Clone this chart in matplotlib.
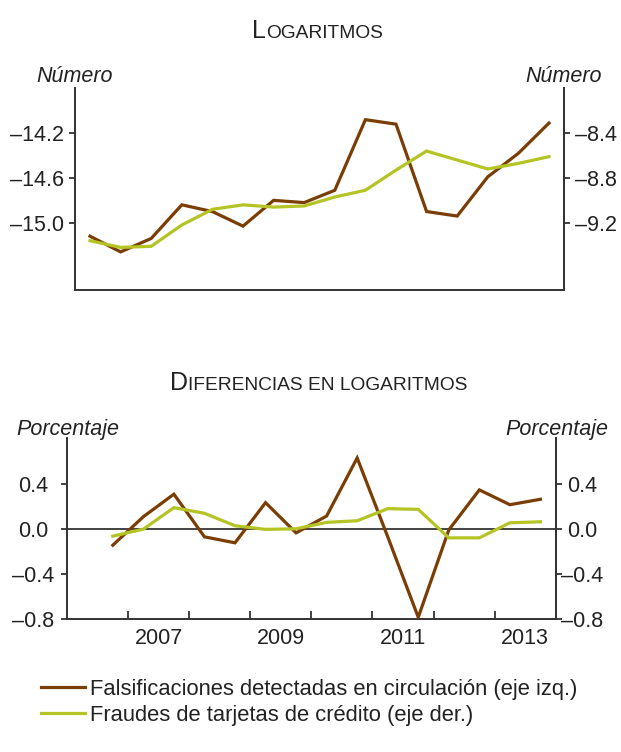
import matplotlib
matplotlib.use("Agg")
import matplotlib.pyplot as plt
from matplotlib.ticker import FixedLocator, FuncFormatter, NullFormatter, FixedFormatter
from matplotlib.lines import Line2D

plt.rcParams['font.family'] = ['Liberation Sans', 'DejaVu Sans']

# ---- data ----
x_levels = [2006.25, 2006.75, 2007.25, 2007.75, 2008.25, 2008.75, 2009.25, 2009.75,
            2010.25, 2010.75, 2011.25, 2011.75, 2012.25, 2012.75, 2013.25, 2013.75]
falsif_log = [-15.12, -15.26, -15.14, -14.84, -14.90, -15.03, -14.80, -14.82,
              -14.71, -14.08, -14.12, -14.90, -14.94, -14.59, -14.38, -14.11]
fraudes_log = [-9.36, -9.42, -9.41, -9.22, -9.08, -9.04, -9.06, -9.05,
               -8.97, -8.91, -8.73, -8.56, -8.64, -8.72, -8.67, -8.61]

x_diff = x_levels[1:]
falsif_diff = [-0.145, 0.107, 0.306, -0.071, -0.124, 0.231, -0.036, 0.113,
               0.626, -0.07, -0.782, -0.01, 0.344, 0.213, 0.261]
fraudes_diff = [-0.065, -0.003, 0.187, 0.137, 0.027, -0.005, 0.0, 0.057,
                0.071, 0.178, 0.172, -0.08, -0.08, 0.053, 0.062]

year_ticks = [2007, 2008, 2009, 2010, 2011, 2012, 2013]
year_label_pos = [2007.5, 2009.5, 2011.5, 2013.5]
year_labels = ['2007', '2009', '2011', '2013']

top_left_ticks = [-15.0, -14.6, -14.2]
top_right_ticks = [-9.2, -8.8, -8.4]
bot_ticks = [-0.8, -0.4, 0.0, 0.4]

BROWN = '#7a3d04'
GREEN = '#b4c425'
SPINE = '#333333'
TXT = '#222222'
LW = 2.3
FS = 15.5
TL = 4.6

W, H = 621, 752
fig = plt.figure(figsize=(W / 100, H / 100), dpi=100)


def fx(px):
    return px / W


def fy(py):
    return 1 - py / H


def dash_fmt(v, pos):
    s = '%.1f' % abs(v)
    return ('\u2013' + s) if v < -1e-9 else s


def style_axes(ax, side, pad=3.2):
    ax.spines['top'].set_visible(False)
    for s in ['left', 'right', 'bottom']:
        ax.spines[s].set_color(SPINE)
        ax.spines[s].set_linewidth(1.4)
    ax.tick_params(axis='y', which='major', direction='out', length=TL, width=1.3,
                   color=SPINE, labelsize=FS, labelcolor=TXT, pad=pad)
    if side == 'left':
        ax.tick_params(axis='y', left=True, right=False, labelleft=True, labelright=False)
    else:
        ax.tick_params(axis='y', left=False, right=True, labelleft=False, labelright=True)
    ax.yaxis.set_major_formatter(FuncFormatter(dash_fmt))
    ax.set_facecolor('none')


# ---- top panel ----
l1, r1, t1, b1 = 74.7, 564.3, 88.3, 290
ax1 = fig.add_axes([fx(l1), fy(b1), fx(r1 - l1), (b1 - t1) / H])
ax1.plot(x_levels, falsif_log, color=BROWN, lw=LW, solid_joinstyle='miter')
ax1.set_xlim(2006, 2014)
ax1.set_ylim(-15.6, -13.8)
ax1.yaxis.set_major_locator(FixedLocator(top_left_ticks))
style_axes(ax1, 'left')
ax1.tick_params(axis='x', bottom=False, labelbottom=False)
ax1b = ax1.twinx()
ax1b.plot(x_levels, fraudes_log, color=GREEN, lw=LW, solid_joinstyle='miter')
ax1b.set_ylim(-9.8, -8.0)
ax1b.yaxis.set_major_locator(FixedLocator(top_right_ticks))
style_axes(ax1b, 'right', pad=3.4)
ax1b.spines['left'].set_visible(False)
ax1b.spines['bottom'].set_visible(False)
ax1b.tick_params(axis='x', bottom=False, labelbottom=False)

# ---- bottom panel ----
l2, r2, t2, b2 = 67, 555.7, 438.3, 619.3
ax2 = fig.add_axes([fx(l2), fy(b2), fx(r2 - l2), (b2 - t2) / H])
ax2.axhline(0, color='#111111', lw=1.1, zorder=1)
ax2.plot(x_diff, falsif_diff, color=BROWN, lw=LW, solid_joinstyle='miter', zorder=3)
ax2.set_xlim(2006, 2014)
ax2.set_ylim(-0.8, 0.8)
ax2.yaxis.set_major_locator(FixedLocator(bot_ticks))
style_axes(ax2, 'left', pad=19.7)
ax2.xaxis.set_major_locator(FixedLocator(year_ticks))
ax2.xaxis.set_major_formatter(NullFormatter())
ax2.xaxis.set_minor_locator(FixedLocator(year_label_pos))
ax2.xaxis.set_minor_formatter(FixedFormatter(year_labels))
ax2.tick_params(axis='x', which='major', direction='in', length=5.5, width=1.3, color=SPINE)
ax2.tick_params(axis='x', which='minor', length=0, labelsize=FS, labelcolor=TXT, pad=6)
ax2b = ax2.twinx()
ax2b.plot(x_diff, fraudes_diff, color=GREEN, lw=LW, solid_joinstyle='miter')
ax2b.set_ylim(-0.8, 0.8)
ax2b.yaxis.set_major_locator(FixedLocator(bot_ticks))
style_axes(ax2b, 'right', pad=14.3)
ax2b.spines['left'].set_visible(False)
ax2b.spines['bottom'].set_visible(False)
for lbl in ax2.get_yticklabels():
    lbl.set_horizontalalignment('center')
for lbl in ax2b.get_yticklabels():
    lbl.set_horizontalalignment('center')

# ---- axis unit labels ----
ULS = 15.5
fig.text(fx(36), fy(82), 'Número', style='italic', fontsize=ULS, color=TXT, ha='left', va='baseline')
fig.text(fx(602), fy(82), 'Número', style='italic', fontsize=ULS, color=TXT, ha='right', va='baseline')
fig.text(fx(16), fy(435), 'Porcentaje', style='italic', fontsize=ULS, color=TXT, ha='left', va='baseline')
fig.text(fx(608), fy(435), 'Porcentaje', style='italic', fontsize=ULS, color=TXT, ha='right', va='baseline')


# ---- small-caps titles ----
renderer = fig.canvas.get_renderer()


def smallcaps_title(parts, xc, yb):
    texts = []
    widths = []
    for t, s in parts:
        tx = fig.text(0, fy(yb), t, fontsize=s, color=TXT, ha='left', va='baseline')
        texts.append(tx)
        widths.append(tx.get_window_extent(renderer=renderer).width)
    total = sum(widths)
    x = xc - total / 2
    for tx, w in zip(texts, widths):
        tx.set_x(fx(x))
        x += w


smallcaps_title([('L', 18), ('OGARITMOS', 13.8)], 317.5, 38)
smallcaps_title([('D', 18), ('IFERENCIAS EN LOGARITMOS', 13.8)], 318.5, 390)

# ---- legend ----
handles = [Line2D([], [], color=BROWN, lw=LW), Line2D([], [], color=GREEN, lw=LW)]
labels = ['Falsificaciones detectadas en circulación (eje izq.)',
          'Fraudes de tarjetas de crédito (eje der.)']
fig.legend(handles, labels, loc='upper left', bbox_to_anchor=(fx(41), fy(679)),
           frameon=False, fontsize=15.8, handlelength=2.0, handletextpad=0.22,
           labelspacing=0.22, borderpad=0, borderaxespad=0, labelcolor=TXT)

fig.savefig('out.png', dpi=100)
